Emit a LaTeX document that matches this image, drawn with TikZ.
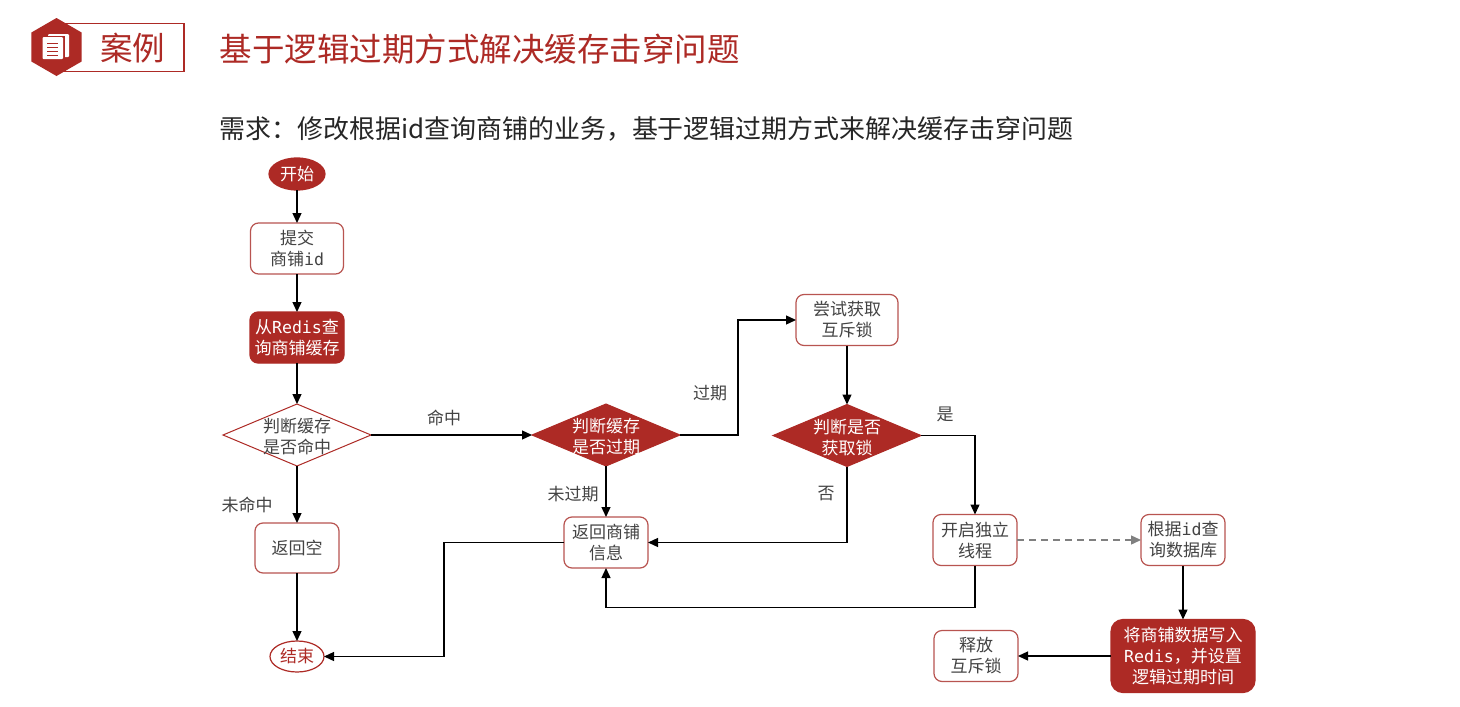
\documentclass[tikz,border=0pt]{standalone}
\usepackage{fontspec}
\usepackage{xcolor}
\setmainfont{Noto Sans CJK SC}
\newfontfamily\latinmono{DejaVu Sans Mono}
\definecolor{casered}{HTML}{AD2A25}
\definecolor{edgered}{HTML}{B85450}
\definecolor{casetext}{HTML}{434343}
\usetikzlibrary{shapes.geometric,positioning,calc,arrows.meta}
\newcommand{\monotext}[1]{{\latinmono\fontsize{16.6}{21}\selectfont #1}}
\tikzset{
    body/.style={font=\fontsize{17}{21}\selectfont, align=center, text=casetext},
    stepbox/.style={body, draw=edgered, fill=white, line width=1.2pt, rectangle, rounded corners=8pt,
        minimum width=84pt, minimum height=51pt, inner sep=0pt, outer sep=0pt},
    keybox/.style={stepbox, draw=casered, fill=casered, text=white},
    startend/.style={body, draw=casered, line width=1.2pt, ellipse, inner sep=0pt, outer sep=0pt},
    choice/.style={draw=casered, line width=1pt, diamond, aspect=2.39, inner sep=0pt, outer sep=0pt,
        minimum width=148pt, minimum height=62pt},
    choicetext/.style={body, yshift=-2pt},
    elabel/.style={body, inner sep=0pt},
    flow/.style={-{Triangle[length=10pt,width=9pt]}, line width=1.3pt, black},
}
\begin{document}
\begin{tikzpicture}[x=1pt,y=-1pt]
    \useasboundingbox [fill=white] (0,0) rectangle (1460,707);

    % heading
    \node [draw=casered, line width=1.3pt, minimum width=119pt, minimum height=48pt, inner sep=0pt] (tagbox) at (124.5,47.5) {};
    \node [regular polygon, regular polygon sides=6, shape border rotate=30, fill=casered, minimum size=58pt, inner sep=0pt] (hexicon) at (56.5,47) {};
    \fill [white, rounded corners=1pt] (48,34) rectangle (69,57);
    \fill [casered] (45,35.5) rectangle (65,61);
    \fill [white, rounded corners=1pt] (42.5,37) rectangle (63,59);
    \foreach \y in {43,47,51,55} \draw [casered, line width=1pt] (47,\y) -- (58,\y);
    \node [text=casered, font=\fontsize{32.5}{36}\selectfont, inner sep=0pt] (tag) at (132.5,48) {案例};
    \node [text=casered, font=\fontsize{32.5}{36}\selectfont, anchor=west, inner sep=0pt] (title) at (219.5,49) {基于逻辑过期方式解决缓存击穿问题};
    \node [text=black!85, font=\fontsize{25.94}{30}\selectfont, anchor=west, inner sep=0pt] (need) at (219.5,129) {需求：修改根据id查询商铺的业务，基于逻辑过期方式来解决缓存击穿问题};

    % left column
    \node [startend, fill=casered, text=white, minimum width=56pt, minimum height=32pt] (start) at (297,174) {开始};
    \node [stepbox, minimum width=93pt, below=33pt of start] (submit) {提交\\商铺\monotext{id}};
    \node [keybox, minimum width=94pt, below=38pt of submit] (query) {从\monotext{Redis}查\\询商铺缓存};
    \node [choice, below=41pt of query, label={[choicetext]center:判断缓存\\是否命中}] (hit) {};
    \node [stepbox, minimum height=50pt, below=57pt of hit] (empty) {返回空};
    \node [startend, fill=white, text=casered, minimum width=54pt, minimum height=31pt, below=68pt of empty] (finish) {结束};

    % middle column
    \node [choice, fill=casered, right=161pt of hit, label={[choicetext, text=white]center:判断缓存\\是否过期}] (expire) {};
    \node [stepbox, below=51pt of expire] (info) {返回商铺\\信息};

    % right side
    \node [stepbox, minimum width=102pt] (trylock) at (847,320) {尝试获取\\互斥锁};
    \node [choice, fill=casered, below=59pt of trylock, label={[choicetext, text=white]center:判断是否\\获取锁}] (gotlock) {};
    \node [stepbox] (thread) at (975,540) {开启独立\\线程};
    \node [stepbox, right=124pt of thread] (loaddb) {根据\monotext{id}查\\询数据库};
    \node [keybox, rounded corners=12pt, minimum width=144pt, minimum height=73pt, below=54pt of loaddb] (write) {将商铺数据写入\\\monotext{Redis}，并设置\\逻辑过期时间};
    \node [stepbox, left=93pt of write] (release) {释放\\互斥锁};

    % branch labels
    \node [elabel] (lblhit) at (444,418) {命中};
    \node [elabel] (lblmiss) at (247,505) {未命中};
    \node [elabel] (lblold) at (710,393) {过期};
    \node [elabel] (lblnew) at (573,494) {未过期};
    \node [elabel] (lblyes) at (945,414) {是};
    \node [elabel] (lblno) at (826,494) {否};

    \draw [flow] (start) -- (submit);
    \draw [flow] (submit) -- (query);
    \draw [flow] (query) -- (hit);
    \draw [flow] (hit) -- (empty);
    \draw [flow] (empty) -- (finish);
    \draw [flow] (hit) -- (expire);
    \draw [flow] (expire) -- (info);
    \draw [flow] (expire.east) -- ++(58,0) |- (trylock.west);
    \draw [flow] (trylock) -- (gotlock);
    \draw [flow] (gotlock.east) -| (thread.north);
    \draw [flow] (gotlock.south) |- (info.east);
    \draw [flow] (info.west) -- ++(-120,0) |- (finish.east);
    \draw [flow] (thread.south) -- ++(0,42) -| (info.south);
    \draw [flow, gray, dashed, dash pattern=on 7pt off 5pt] (thread) -- (loaddb);
    \draw [flow] (loaddb) -- (write);
    \draw [flow] (write) -- (release);
\end{tikzpicture}
\end{document}
